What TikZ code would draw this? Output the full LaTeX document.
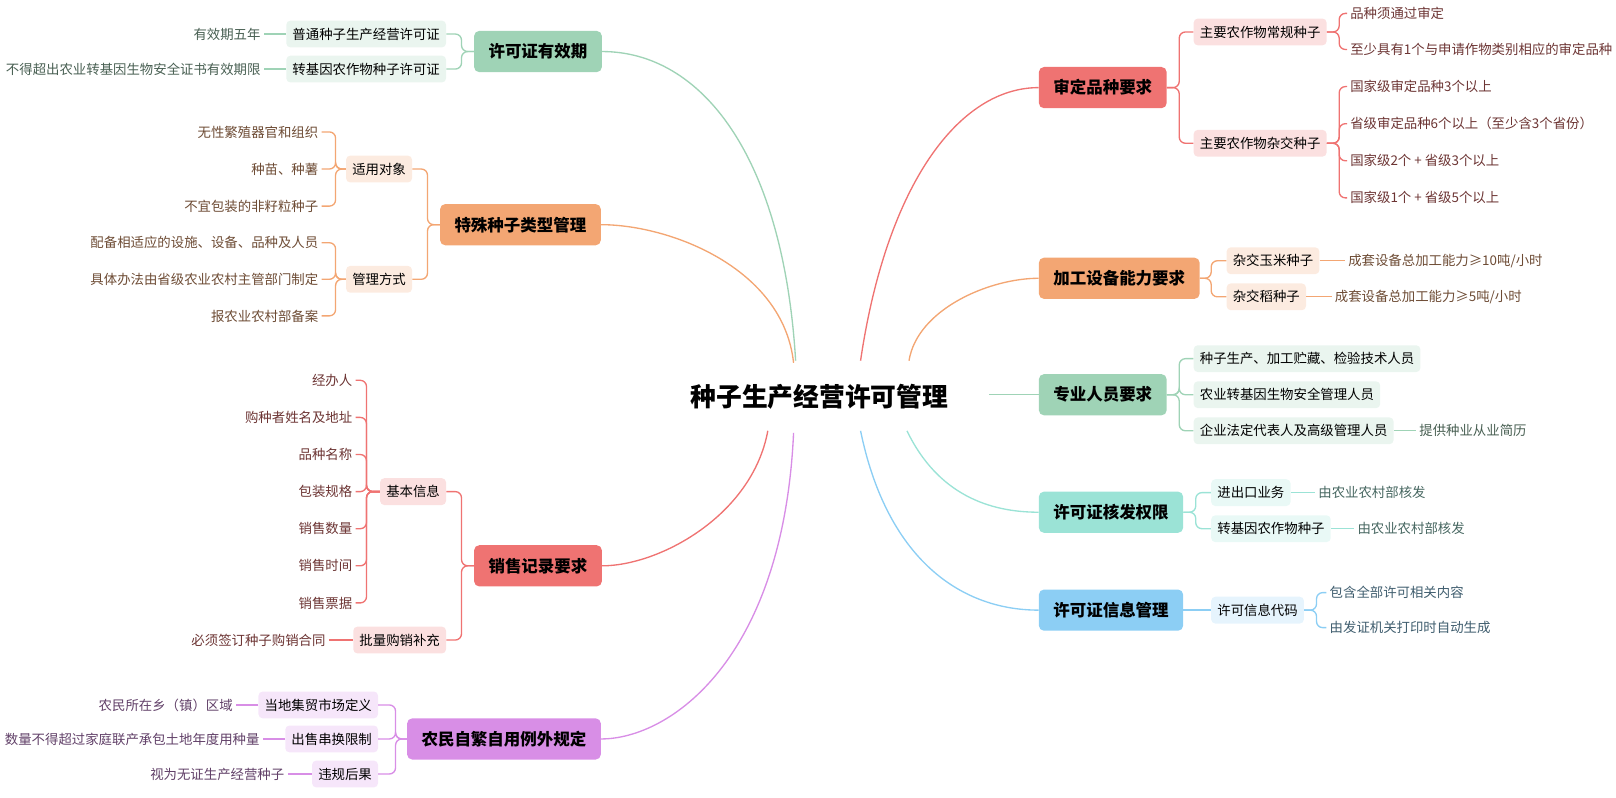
\documentclass[tikz,border=0pt]{standalone}
\usepackage{fontspec}
\setmainfont{Noto Sans CJK SC}
\usetikzlibrary{calc, positioning}

\definecolor{cgreen}{HTML}{9FD3B6}
\definecolor{corange}{HTML}{F3A673}
\definecolor{cred}{HTML}{EF7372}
\definecolor{cpurple}{HTML}{D88EE6}
\definecolor{cteal}{HTML}{9BE3D6}
\definecolor{cblue}{HTML}{8CCEF4}

\tikzset{
  main/.style={rounded corners=5, fill=#1, minimum height=40, inner xsep=14, font=\fontsize{16}{18}\selectfont\bfseries},
  sub/.style={rounded corners=4, fill=#1!22, minimum height=26, inner xsep=6, font=\fontsize{13}{15}\selectfont},
  leaf/.style={inner sep=3, text=#1!45!black, font=\fontsize{13}{15}\selectfont},
  link/.style={draw=#1, line width=1.3},
  fork/.style={draw=#1, line width=1.3, rounded corners=6},
}

\begin{document}
\begin{tikzpicture}[x=1pt, y=-1pt]
  \useasboundingbox (0,0) rectangle (1568,774);

  \node[font=\fontsize{25}{28}\selectfont\bfseries] (root) at (795,385) {种子生产经营许可管理};

  % left side
  \node[main=cgreen]  (valid)   at (522,50)  {许可证有效期};
  \node[main=corange] (special) at (505,218) {特殊种子类型管理};
  \node[main=cred]    (sales)   at (522,549) {销售记录要求};
  \node[main=cpurple] (farmer)  at (489,717) {农民自繁自用例外规定};

  % right side
  \node[main=cred]    (variety) at (1070,85)  {审定品种要求};
  \node[main=corange] (process) at (1086,270) {加工设备能力要求};
  \node[main=cgreen]  (staff)   at (1070,383) {专业人员要求};
  \node[main=cteal]   (issue)   at (1078,497) {许可证核发权限};
  \node[main=cblue]   (info)    at (1078,592) {许可证信息管理};

  % branches from root
  \draw[link=cgreen]  (772,350) .. controls (760,150) and (680,50) .. (valid.east);
  \draw[link=corange] (770,352) .. controls (760,260) and (650,218) .. (special.east);
  \draw[link=cred]    (745,418) .. controls (730,500) and (640,549) .. (sales.east);
  \draw[link=cpurple] (770,420) .. controls (760,640) and (650,717) .. (farmer.east);
  \draw[link=cred]    (835,350) .. controls (860,180) and (930,85) .. (variety.west);
  \draw[link=corange] (882,350) .. controls (890,300) and (960,270) .. (process.west);
  \draw[link=cgreen]  (960,383) -- (staff.west);
  \draw[link=cteal]   (880,418) .. controls (910,480) and (960,497) .. (issue.west);
  \draw[link=cblue]   (835,418) .. controls (860,540) and (930,592) .. (info.west);

  % valid
  \node[sub=cgreen, anchor=east] (valid-a) at (433,33) {普通种子生产经营许可证};
  \node[sub=cgreen, anchor=east] (valid-b) at (433,67) {转基因农作物种子许可证};
  \node[leaf=cgreen, anchor=east] (valid-a1) at (256,33) {有效期五年};
  \node[leaf=cgreen, anchor=east] (valid-b1) at (256,67) {不得超出农业转基因生物安全证书有效期限};
  \foreach \c in {valid-a, valid-b} \draw[fork=cgreen] (valid.west) -- ++(-12,0) |- (\c.east);
  \draw[link=cgreen] (valid-a.west) -- (valid-a1.east);
  \draw[link=cgreen] (valid-b.west) -- (valid-b1.east);

  % special
  \node[sub=corange, anchor=east] (special-a) at (400,164) {适用对象};
  \node[sub=corange, anchor=east] (special-b) at (400,271) {管理方式};
  \foreach \c in {special-a, special-b} \draw[fork=corange] (special.west) -- ++(-12,0) |- (\c.east);
  \foreach \t [count=\i] in {无性繁殖器官和组织, {种苗、种薯}, 不宜包装的非籽粒种子} {
    \node[leaf=corange, anchor=east] (special-a\i) at (312,92+36*\i) {\t};
    \draw[fork=corange] (special-a.west) -- ++(-10,0) |- (special-a\i.east);
  }
  \foreach \t [count=\i] in {配备相适应的设施、设备、品种及人员, 具体办法由省级农业农村主管部门制定, 报农业农村部备案} {
    \node[leaf=corange, anchor=east] (special-b\i) at (312,200+35.5*\i) {\t};
    \draw[fork=corange] (special-b.west) -- ++(-10,0) |- (special-b\i.east);
  }

  % sales
  \node[sub=cred, anchor=east] (sales-a) at (433,477) {基本信息};
  \node[sub=cred, anchor=east] (sales-b) at (433,621) {批量购销补充};
  \foreach \c in {sales-a, sales-b} \draw[fork=cred] (sales.west) -- ++(-12,0) |- (\c.east);
  \foreach \t [count=\i] in {经办人, 购种者姓名及地址, 品种名称, 包装规格, 销售数量, 销售时间, 销售票据} {
    \node[leaf=cred, anchor=east] (sales-a\i) at (345,333+36*\i) {\t};
    \draw[fork=cred] (sales-a.west) -- ++(-13,0) |- (sales-a\i.east);
  }
  \node[leaf=cred, anchor=east] (sales-b1) at (319,621) {必须签订种子购销合同};
  \draw[link=cred] (sales-b.west) -- (sales-b1.east);

  % farmer
  \node[sub=cpurple, anchor=east] (farmer-a) at (367,684) {当地集贸市场定义};
  \node[sub=cpurple, anchor=east] (farmer-b) at (367,717) {出售串换限制};
  \node[sub=cpurple, anchor=east] (farmer-c) at (367,751) {违规后果};
  \foreach \c in {farmer-a, farmer-b, farmer-c} \draw[fork=cpurple] (farmer.west) -- ++(-11,0) |- (\c.east);
  \node[leaf=cpurple, anchor=east] (farmer-a1) at (229,684) {农民所在乡（镇）区域};
  \node[leaf=cpurple, anchor=east] (farmer-b1) at (255,717) {数量不得超过家庭联产承包土地年度用种量};
  \node[leaf=cpurple, anchor=east] (farmer-c1) at (279,751) {视为无证生产经营种子};
  \draw[link=cpurple] (farmer-a.west) -- (farmer-a1.east);
  \draw[link=cpurple] (farmer-b.west) -- (farmer-b1.east);
  \draw[link=cpurple] (farmer-c.west) -- (farmer-c1.east);

  % variety
  \node[sub=cred, anchor=west] (variety-a) at (1158,31)  {主要农作物常规种子};
  \node[sub=cred, anchor=west] (variety-b) at (1158,139) {主要农作物杂交种子};
  \foreach \c in {variety-a, variety-b} \draw[fork=cred] (variety.east) -- ++(12,0) |- (\c.west);
  \foreach \t [count=\i] in {品种须通过审定, 至少具有1个与申请作物类别相应的审定品种} {
    \node[leaf=cred, anchor=west] (variety-a\i) at (1307,-22+35*\i) {\t};
    \draw[fork=cred] (variety-a.east) -- ++(12,0) |- (variety-a\i.west);
  }
  \foreach \t [count=\i] in {国家级审定品种3个以上, 省级审定品种6个以上（至少含3个省份）, 国家级2个 + 省级3个以上, 国家级1个 + 省级5个以上} {
    \node[leaf=cred, anchor=west] (variety-b\i) at (1307,48+36*\i) {\t};
    \draw[fork=cred] (variety-b.east) -- ++(12,0) |- (variety-b\i.west);
  }

  % process
  \node[sub=corange, anchor=west] (process-a) at (1190,253) {杂交玉米种子};
  \node[sub=corange, anchor=west] (process-b) at (1190,288) {杂交稻种子};
  \foreach \c in {process-a, process-b} \draw[fork=corange] (process.east) -- ++(11,0) |- (\c.west);
  \node[leaf=corange, anchor=west] (process-a1) at (1305,253) {成套设备总加工能力≥10吨/小时};
  \node[leaf=corange, anchor=west] (process-b1) at (1292,288) {成套设备总加工能力≥5吨/小时};
  \draw[link=corange] (process-a.east) -- (process-a1.west);
  \draw[link=corange] (process-b.east) -- (process-b1.west);

  % staff
  \node[sub=cgreen, anchor=west] (staff-a) at (1158,348) {种子生产、加工贮藏、检验技术人员};
  \node[sub=cgreen, anchor=west] (staff-b) at (1158,383) {农业转基因生物安全管理人员};
  \node[sub=cgreen, anchor=west] (staff-c) at (1158,418) {企业法定代表人及高级管理人员};
  \foreach \c in {staff-a, staff-b, staff-c} \draw[fork=cgreen] (staff.east) -- ++(12,0) |- (\c.west);
  \node[leaf=cgreen, anchor=west] (staff-c1) at (1374,418) {提供种业从业简历};
  \draw[link=cgreen] (staff-c.east) -- (staff-c1.west);

  % issue
  \node[sub=cteal, anchor=west] (issue-a) at (1175,478) {进出口业务};
  \node[sub=cteal, anchor=west] (issue-b) at (1175,513) {转基因农作物种子};
  \foreach \c in {issue-a, issue-b} \draw[fork=cteal] (issue.east) -- ++(12,0) |- (\c.west);
  \node[leaf=cteal, anchor=west] (issue-a1) at (1276,478) {由农业农村部核发};
  \node[leaf=cteal, anchor=west] (issue-b1) at (1314,513) {由农业农村部核发};
  \draw[link=cteal] (issue-a.east) -- (issue-a1.west);
  \draw[link=cteal] (issue-b.east) -- (issue-b1.west);

  % info
  \node[sub=cblue, anchor=west] (info-a) at (1175,592) {许可信息代码};
  \draw[link=cblue] (info.east) -- (info-a.west);
  \node[leaf=cblue, anchor=west] (info-a1) at (1287,575) {包含全部许可相关内容};
  \node[leaf=cblue, anchor=west] (info-a2) at (1287,609) {由发证机关打印时自动生成};
  \foreach \c in {info-a1, info-a2} \draw[fork=cblue] (info-a.east) -- ++(12,0) |- (\c.west);

\end{tikzpicture}
\end{document}
